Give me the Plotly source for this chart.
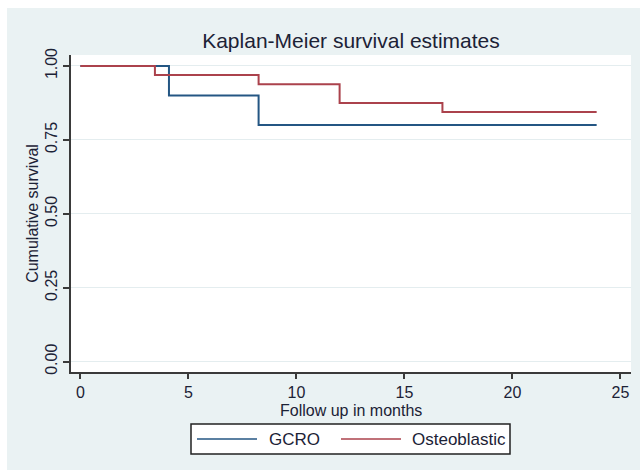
import plotly.graph_objects as go

# ---- data ----
gcro_time = [0, 4.1, 8.25, 23.9]
gcro_surv = [1.0, 0.9, 0.8, 0.8]
osteo_time = [0, 3.45, 8.25, 12.0, 16.76, 23.9]
osteo_surv = [1.0, 0.969, 0.938, 0.875, 0.844, 0.844]
series_names = ["GCRO", "Osteoblastic"]
x_ticks = [0, 5, 10, 15, 20, 25]
y_ticks = [0, 0.25, 0.5, 0.75, 1.0]
y_ticklabels = ["0.00", "0.25", "0.50", "0.75", "1.00"]

BLUE = "#245683"
RED = "#ab424c"
BG = "#eaf2f3"
TXT = "#1c2236"
FONT = "Liberation Sans, Arial, sans-serif"

W, H = 640, 470
L, R, T, B = 71, 631, 55, 372


def px(x):
    return (x - L) / (R - L)


def py(y):
    return (B - y) / (B - T)


fig = go.Figure()
fig.add_trace(go.Scatter(x=gcro_time, y=gcro_surv, mode="lines", line_shape="hv",
                         line=dict(color=BLUE, width=2), name=series_names[0], showlegend=False))
fig.add_trace(go.Scatter(x=osteo_time, y=osteo_surv, mode="lines", line_shape="hv",
                         line=dict(color=RED, width=2), name=series_names[1], showlegend=False))

shapes = []
# white outer strips (screenshot margin)
shapes.append(dict(type="rect", xref="paper", yref="paper", x0=px(-5), x1=px(7), y0=py(475), y1=py(-5),
                   fillcolor="white", line=dict(width=0), layer="below"))
shapes.append(dict(type="rect", xref="paper", yref="paper", x0=px(-5), x1=px(645), y0=py(8), y1=py(-5),
                   fillcolor="white", line=dict(width=0), layer="below"))
# manual legend box
shapes.append(dict(type="rect", xref="paper", yref="paper", x0=px(191), x1=px(510), y0=py(454), y1=py(424),
                   fillcolor="white", line=dict(color="#222222", width=1.5)))
shapes.append(dict(type="line", xref="paper", yref="paper", x0=px(197), x1=px(257), y0=py(439), y1=py(439),
                   line=dict(color=BLUE, width=1.5)))
shapes.append(dict(type="line", xref="paper", yref="paper", x0=px(341), x1=px(401), y0=py(439), y1=py(439),
                   line=dict(color=RED, width=1.5)))

annotations = [
    dict(xref="paper", yref="paper", x=px(267), y=py(439), text=series_names[0], showarrow=False,
         xanchor="left", yanchor="middle", font=dict(family=FONT, size=17, color=TXT)),
    dict(xref="paper", yref="paper", x=px(410), y=py(439), text=series_names[1], showarrow=False,
         xanchor="left", yanchor="middle", font=dict(family=FONT, size=17, color=TXT)),
    # x-axis title (sits tight under the tick labels, as in the reference)
    dict(xref="paper", yref="paper", x=0.5, y=py(410), text="Follow up in months", showarrow=False,
         xanchor="center", yanchor="middle", font=dict(family=FONT, size=16, color=TXT)),
]

fig.update_layout(
    width=W, height=H,
    margin=dict(l=L, r=W - R, t=T, b=H - B, autoexpand=False),
    paper_bgcolor=BG, plot_bgcolor="white",
    font=dict(family=FONT, size=16, color=TXT),
    title=dict(text="Kaplan-Meier survival estimates", x=0.5, xref="paper", xanchor="center",
               y=1 - 41 / H, yref="container", yanchor="middle",
               font=dict(family=FONT, size=21, color=TXT)),
    shapes=shapes, annotations=annotations, showlegend=False,
)
fig.update_xaxes(range=[-0.435, 25.49], tickvals=x_ticks, showgrid=False, zeroline=False,
                 showline=True, linecolor="#3a3a3a", linewidth=1.5, ticks="outside", ticklen=5,
                 tickcolor="#3a3a3a", tickwidth=1.5, tickfont=dict(size=16, color=TXT))
fig.update_yaxes(range=[-0.035, 1.037], tickvals=y_ticks, ticktext=y_ticklabels, tickangle=-90,
                 showgrid=True, gridcolor="#e4edef", gridwidth=1, zeroline=False,
                 showline=True, linecolor="#3a3a3a", linewidth=1.5, ticks="outside", ticklen=6,
                 tickcolor="#3a3a3a", tickwidth=1.5, tickfont=dict(size=16, color=TXT),
                 title=dict(text="Cumulative survival", standoff=0, font=dict(size=16, color=TXT)))

fig.write_html("out.html", config={"displayModeBar": False},
               post_script="document.body.style.margin='0';document.body.style.overflow='hidden';")
